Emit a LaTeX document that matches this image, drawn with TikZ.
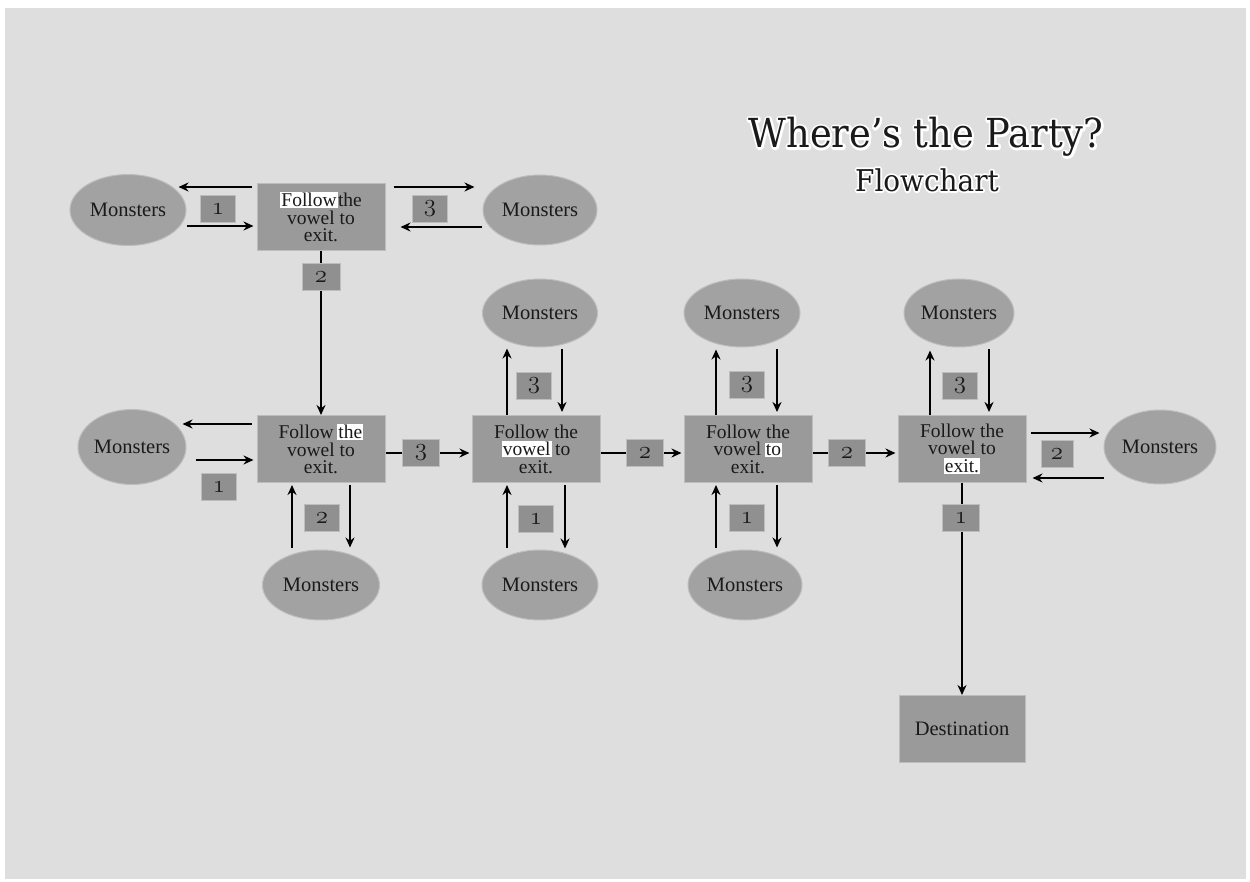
\documentclass[tikz,border=0pt]{standalone}
\usepackage{fontspec}
\setmainfont{Liberation Serif}
\newfontfamily\titlefont{DejaVu Serif}
\usetikzlibrary{arrows.meta,calc,shapes.geometric}
\definecolor{paper}{HTML}{DEDEDE}
\definecolor{boxfill}{HTML}{9A9A9A}
\definecolor{ellfill}{HTML}{A2A2A2}
\definecolor{lblfill}{HTML}{909090}
\definecolor{rim}{HTML}{BDBDBD}
\definecolor{ink}{HTML}{1A1A1A}
\newcommand\hlw[1]{{\setlength{\fboxsep}{1.3pt}\colorbox{white}{#1}}}
\newcommand\osn[1]{{\fontencoding{OML}\fontfamily{cmm}\fontseries{m}\fontshape{it}\selectfont #1}}
\newcommand\halo[2]{\special{pdf:code q 1 j 1 J #1 w 1 1 1 RG 1 1 1 rg 2 Tr}#2\special{pdf:code Q}}
\tikzset{
  stepbox/.style={rectangle, fill=boxfill, draw=rim, text=ink, line width=1pt, minimum width=128pt, minimum height=67pt, align=center, inner sep=1pt, font=\fontsize{19.5}{17.5}\selectfont},
  monster/.style={ellipse, fill=ellfill, draw=rim, text=ink, line width=1pt, inner sep=0pt, font=\fontsize{20.5}{20}\selectfont},
  lbl/.style={rectangle, fill=lblfill, draw=rim, text=ink, line width=0.8pt, minimum width=35pt, minimum height=27pt, inner sep=0pt, font=\fontsize{24}{24}\selectfont},
  arr/.style={line width=1.6pt, -{Stealth[length=10pt,width=9pt]}},
  bigtitle/.style={inner sep=0pt, xscale=0.92, transform shape, font=\titlefont\fontsize{40}{40}\selectfont},
  subtitle/.style={inner sep=0pt, xscale=0.93, transform shape, font=\titlefont\fontsize{30}{30}\selectfont}
}
\begin{document}
\begin{tikzpicture}[x=1pt,y=-1pt]
\fill[white] (0,0) rectangle (1250,882);
\useasboundingbox (0,0) rectangle (1250,882);
\fill[paper] (5,8) rectangle (1246,879);
% title with white halo (stroked outline underneath)
\node[bigtitle, text=white] (titlehalo) at (926,137) {\halo{4.5}{Where’s the Party?}};
\node[subtitle, text=white] (subthalo) at (927,180) {\halo{3.8}{Flowchart}};
\node[bigtitle, text=ink] (title) at (926,137) {Where’s the Party?};
\node[subtitle, text=ink] (subt) at (927,180) {Flowchart};

% step boxes
\node[stepbox] (b1) at (321,217) {\hlw{Follow}the\\vowel to\\exit.};
\node[stepbox] (b2) at (321,449) {Follow\,\hlw{the}\\vowel to\\exit.};
\node[stepbox] (b3) at (536,449) {Follow the\\\hlw{vowel}\,to\\exit.};
\node[stepbox] (b4) at (748,449) {Follow the\\vowel\,\hlw{to}\\exit.};
\node[stepbox] (b5) at (962,449) {Follow the\\vowel to\\\hlw{exit.}};
\node[stepbox, minimum width=126pt, font=\fontsize{20.5}{20}\selectfont] (dest) at (962,729) {Destination};

% monsters
\node[monster, minimum width=116pt, minimum height=71pt] (m1) at (128,210) {Monsters};
\node[monster, minimum width=114pt, minimum height=70pt] (m2) at (540,210) {Monsters};
\node[monster, minimum width=108pt, minimum height=75pt] (m3) at (132,447) {Monsters};
\node[monster, minimum width=115pt, minimum height=68pt] (m4) at (540,313) {Monsters};
\node[monster, minimum width=116pt, minimum height=68pt] (m5) at (742,313) {Monsters};
\node[monster, minimum width=110pt, minimum height=68pt] (m6) at (959,313) {Monsters};
\node[monster, minimum width=117pt, minimum height=70pt] (m7) at (321,585) {Monsters};
\node[monster, minimum width=116pt, minimum height=70pt] (m8) at (540,585) {Monsters};
\node[monster, minimum width=114pt, minimum height=70pt] (m9) at (745,585) {Monsters};
\node[monster, minimum width=112pt, minimum height=74pt] (m10) at (1160,447) {Monsters};

% connectors
\draw[arr] ($(b1.west)+(-5,-30)$) -- ($(m1.east)+(-8,-23)$);
\draw[arr] ($(m1.east)+(0,16)$) -- ($(b1.west)+(-3,9)$);
\draw[arr] ($(b1.east)+(8,-30)$) -- ($(m2.west)+(-8,-23)$);
\draw[arr] ($(m2.west)+(-1,17)$) -- ($(b1.east)+(15,10)$);
\draw[arr] (b1.south) -- (b2.north);

\draw[arr] ($(b2.west)+(-5,-25)$) -- ($(m3.east)+(-4,-23)$);
\draw[arr] ($(m3.east)+(9,13)$) -- ($(b2.west)+(-3,11)$);
\draw[arr] ($(b2.east)+(0,4)$) -- ($(b3.west)+(-2,4)$);
\draw[arr] ($(b3.east)+(0,4)$) -- ($(b4.west)+(-2,4)$);
\draw[arr] ($(b4.east)+(0,4)$) -- ($(b5.west)+(-2,4)$);
\draw[arr] ($(b5.east)+(4,-16)$) -- ($(m10.west)+(-4,-14)$);
\draw[arr] ($(m10.west)+(0,31)$) -- ($(b5.east)+(6,29)$);

\draw[arr] ($(b3.north)+(-29,0)$) -- ($(m4.south)+(-33,1)$);
\draw[arr] ($(m4.south)+(22,2)$) -- ($(b3.north)+(26,-3)$);
\draw[arr] ($(b4.north)+(-32,0)$) -- ($(m5.south)+(-26,2)$);
\draw[arr] ($(m5.south)+(35,2)$) -- ($(b4.north)+(29,-3)$);
\draw[arr] ($(b5.north)+(-32,0)$) -- ($(m6.south)+(-29,3)$);
\draw[arr] ($(m6.south)+(30,2)$) -- ($(b5.north)+(27,-3)$);

\draw[arr] ($(m7.north)+(-29,-2)$) -- ($(b2.south)+(-29,2)$);
\draw[arr] ($(b2.south)+(29,2)$) -- ($(m7.north)+(29,-2)$);
\draw[arr] ($(m8.north)+(-33,-2)$) -- ($(b3.south)+(-29,2)$);
\draw[arr] ($(b3.south)+(29,2)$) -- ($(m8.north)+(25,-1)$);
\draw[arr] ($(m9.north)+(-29,-2)$) -- ($(b4.south)+(-32,2)$);
\draw[arr] ($(b4.south)+(29,2)$) -- ($(m9.north)+(32,-2)$);
\draw[arr] (b5.south) -- (dest.north);

% labels
\node[lbl] (l1) at (218,209) {\osn{1}};
\node[lbl] (l2) at (430,209) {\osn{3}};
\node[lbl, minimum width=38pt] (l3) at (321,277) {\osn{2}};
\node[lbl] (l4) at (219,487) {\osn{1}};
\node[lbl, minimum width=37pt] (l5) at (421,453) {\osn{3}};
\node[lbl, minimum width=37pt] (l6) at (645,453) {\osn{2}};
\node[lbl, minimum width=37pt] (l7) at (847,453) {\osn{2}};
\node[lbl, minimum width=32pt] (l8) at (1057,454) {\osn{2}};
\node[lbl] (l9) at (534,386) {\osn{3}};
\node[lbl] (l10) at (747,385) {\osn{3}};
\node[lbl] (l11) at (960,386) {\osn{3}};
\node[lbl] (l12) at (322,518) {\osn{2}};
\node[lbl] (l13) at (536,519) {\osn{1}};
\node[lbl] (l14) at (747,518) {\osn{1}};
\node[lbl, minimum width=37pt] (l15) at (961,518) {\osn{1}};
\end{tikzpicture}
\end{document}
